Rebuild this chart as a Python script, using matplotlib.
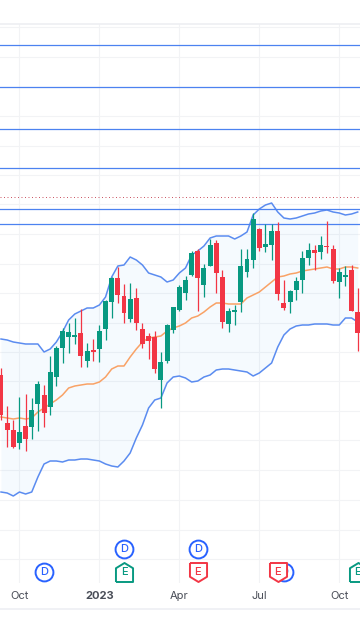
import matplotlib
matplotlib.use('Agg')
import matplotlib.pyplot as plt
from matplotlib.patches import Rectangle
import numpy as np

# y values are read straight off the picture, so the scale runs top down
opens = [375, 423, 430, 443, 426, 427, 404, 395, 407, 377, 348, 337, 337, 333, 361, 350, 349, 329, 302, 278,
         296, 319, 298, 329, 336, 337, 380, 361, 330, 310, 293, 275, 251, 285, 266, 243, 277, 324, 312, 302,
         272, 260, 229, 247, 245, 231, 303, 302, 290, 280, 258, 250, 252, 246, 249, 282, 277, 270, 312]
closes = [415, 430, 447, 432, 439, 410, 384, 413, 372, 348, 331, 332, 335, 356, 351, 352, 331, 301, 278, 295,
          313, 299, 323, 344, 341, 369, 362, 325, 307, 287, 280, 253, 278, 268, 245, 273, 322, 311, 310, 266,
          259, 219, 248, 244, 231, 294, 308, 291, 281, 258, 250, 253, 245, 247, 281, 272, 275, 311, 333]
highs = [368, 406, 420, 397, 394, 398, 381, 385, 356, 346, 328, 323, 318, 309, 343, 339, 325, 300, 277, 267,
         284, 283, 288, 323, 333, 331, 352, 324, 307, 285, 276, 251, 249, 264, 239, 240, 270, 308, 305, 249,
         249, 213, 228, 224, 224, 222, 280, 290, 277, 251, 243, 245, 236, 221, 245, 268, 266, 265, 288]
lows = [420, 447, 448, 449, 451, 439, 431, 427, 415, 386, 363, 353, 344, 367, 367, 361, 362, 340, 318, 303,
        323, 322, 330, 348, 359, 373, 408, 363, 333, 311, 300, 276, 311, 297, 266, 293, 328, 332, 325, 312,
        277, 268, 251, 252, 260, 300, 310, 313, 300, 293, 265, 270, 259, 253, 283, 298, 286, 311, 351]

upper_band = [339, 340, 342, 343, 344, 344, 344, 352, 349, 342, 332, 320, 314, 311, 308, 308, 305, 297, 277, 266,
              265, 257, 260, 265, 273, 275, 277, 282, 280, 273, 268, 255, 251, 246, 238, 236, 236, 236, 239, 236,
              232, 215, 209, 205, 203, 212, 218, 219, 218, 216, 214, 213, 211, 210, 212, 213, 215, 214, 212]
lower_band = [492, 493, 496, 492, 494, 492, 477, 464, 461, 461, 462, 460, 460, 459, 459, 460, 461, 464, 466, 467,
              461, 453, 438, 425, 408, 400, 398, 383, 377, 376, 378, 382, 381, 377, 375, 370, 369, 369, 370, 371,
              372, 376, 373, 368, 363, 347, 335, 329, 326, 325, 325, 324, 324, 324, 325, 325, 318, 318, 322]
ma_line = [417, 418, 419, 418, 419, 418, 412, 408, 404, 400, 395, 388, 386, 385, 384, 384, 382, 377, 369, 366,
           366, 357, 349, 342, 338, 337, 336, 331, 328, 326, 323, 318, 316, 312, 307, 303, 303, 304, 304, 304,
           298, 295, 292, 287, 282, 277, 276, 274, 273, 271, 270, 269, 268, 267, 269, 269, 267, 267, 268]

level_lines = [45, 87, 129, 168, 209, 224]
dotted_level = 197
grid_levels = [27, 57, 87, 116, 146, 175, 204, 234, 264, 293, 323, 352, 381, 411, 440, 470, 500, 530, 559]

tick_weeks = [3, 16, 29, 42, 55]
tick_labels = ['Oct', '2023', 'Apr', 'Jul', 'Oct']

div_weeks = [7, 20, 32, 46]
div_rows = [572, 549, 549, 572]
earn_weeks = [20, 32, 45, 58]
earn_good = [True, False, False, True]
earn_row = 572

GREEN = '#089981'
RED = '#F23645'
BLUE = '#2962FF'
LINE_BLUE = '#5B8CF0'

plt.rcParams['font.family'] = ['Inter', 'DejaVu Sans']

fig = plt.figure(figsize=(3.6, 6.4), dpi=100)
ax = fig.add_axes([0, (640 - 583) / 640, 1, (583 - 24) / 640])
ax.set_xlim(-1 / 6.15, 359 / 6.15)
ax.set_ylim(583, 24)

weeks = np.arange(len(opens))
opens = np.array(opens)
closes = np.array(closes)
up = closes < opens
colors = np.where(up, GREEN, RED)

ax.fill_between(weeks, upper_band, lower_band, color='#2196F3', alpha=0.045, lw=0, zorder=1)
ax.plot(weeks, upper_band, color=LINE_BLUE, lw=1.1, zorder=2)
ax.plot(weeks, lower_band, color=LINE_BLUE, lw=1.1, zorder=2)
ax.plot(weeks, ma_line, color='#F9A266', lw=1.1, zorder=2)

for lvl in level_lines:
    ax.axhline(lvl, color='#4C82F0', lw=0.9, zorder=2)
ax.axhline(dotted_level, color='#C9505F', lw=0.7, ls=(0, (1, 2.6)), zorder=2)

ax.vlines(weeks, highs, lows, colors=colors, lw=0.9, zorder=3)
ax.bar(weeks, np.abs(closes - opens), bottom=np.minimum(opens, closes), width=0.8, color=colors, lw=0, zorder=4)

# event badges along the bottom of the chart
ax.scatter(div_weeks, div_rows, s=165, facecolor='white', edgecolor=BLUE, lw=1.4, zorder=6)
for w, r in zip(div_weeks, div_rows):
    ax.text(w, r, 'D', color=BLUE, fontsize=8, fontweight='medium', ha='center', va='center', zorder=7)

badge_up = [(-0.9, -1), (-0.9, 0.45), (0, 1.0), (0.9, 0.45), (0.9, -1), (-0.9, -1)]
badge_down = [(x, -y) for x, y in badge_up]
for w, good in zip(earn_weeks, earn_good):
    c = GREEN if good else RED
    ax.scatter([w], [earn_row], s=187, marker=badge_up if good else badge_down, facecolor='white',
               edgecolor=c, lw=1.4, zorder=8)
    ax.text(w, earn_row, 'E', color=c, fontsize=8, fontweight='medium', ha='center', va='center', zorder=9)

ax.set_xticks(tick_weeks)
ax.set_xticklabels(tick_labels, fontsize=8, color='#4A4E58')
ax.get_xticklabels()[1].set_fontweight('bold')
ax.set_yticks(grid_levels)
ax.set_yticklabels([])
ax.tick_params(length=0, pad=5.5)
ax.grid(True, color='#F2F3F5', lw=0.8, zorder=0)
ax.set_axisbelow(True)
for side in ['left', 'right', 'bottom']:
    ax.spines[side].set_visible(False)
ax.spines['top'].set_color('#EEEFF2')
ax.spines['top'].set_linewidth(1.2)

fig.add_artist(Rectangle((0, (640 - 610) / 640), 1, 2 / 640, transform=fig.transFigure, color='#F0F1F5', lw=0))

fig.savefig('out.png', dpi=100)
